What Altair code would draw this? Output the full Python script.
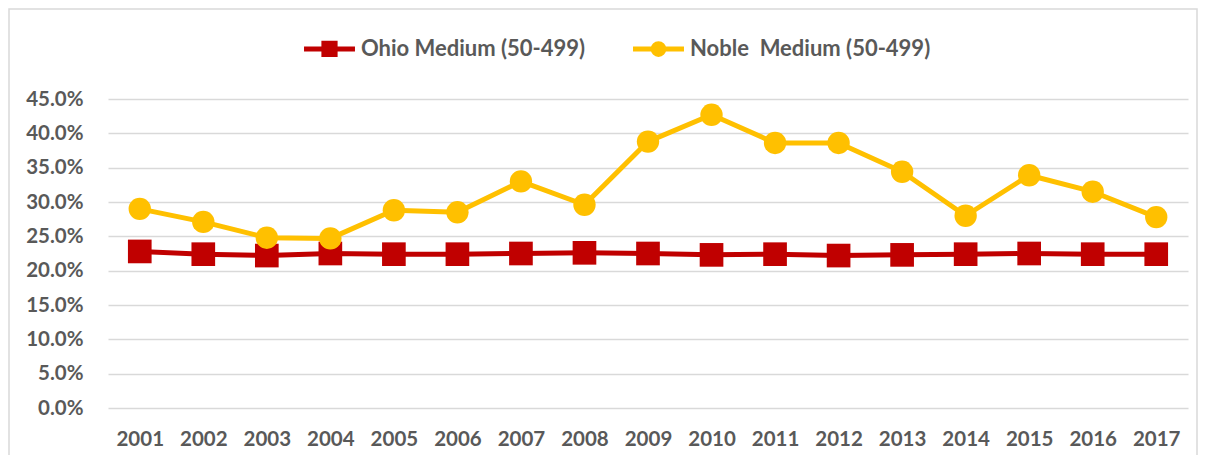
import altair as alt
import pandas as pd

# ---- data ----
years = ["2001", "2002", "2003", "2004", "2005", "2006", "2007", "2008", "2009",
         "2010", "2011", "2012", "2013", "2014", "2015", "2016", "2017"]
ohio = [22.8, 22.4, 22.2, 22.5, 22.4, 22.4, 22.5, 22.6, 22.5,
        22.3, 22.4, 22.2, 22.3, 22.4, 22.5, 22.4, 22.4]
noble = [29.0, 27.1, 24.8, 24.7, 28.8, 28.5, 33.0, 29.6, 38.8,
         42.7, 38.6, 38.6, 34.4, 28.0, 33.9, 31.5, 27.8]
series_names = ["Ohio Medium (50-499)", "Noble  Medium (50-499)"]
series_values = [ohio, noble]
colors = ["#C00000", "#FFC000"]
shapes = ["square", "circle"]
y_ticks = [0.0, 0.05, 0.10, 0.15, 0.20, 0.25, 0.30, 0.35, 0.40, 0.45]
chart_title = "1a: Percent of Employment in Medium Firms"

rows = []
for name, vals in zip(series_names, series_values):
    for yr, v in zip(years, vals):
        rows.append({"Year": yr, "Series": name, "Value": v / 100.0})
df = pd.DataFrame(rows)

FONT = "Lato"
LABEL_COLOR = "#595959"
GRID = "#D9D9D9"

sq_path = "M-0.91,0H0.91M-0.2,-0.2H0.2V0.2H-0.2Z"
ci_path = "M-0.91,0H0.91M0.19,0A0.19,0.19,0,1,1,-0.19,0A0.19,0.19,0,1,1,0.19,0Z"

shape_expr = "datum.value === '" + series_names[0] + "' ? '" + sq_path + "' : '" + ci_path + "'"

legend = alt.Legend(
    title=None,
    orient="none",
    legendX=191,
    legendY=-81,
    direction="horizontal",
    padding=0,
    symbolSize=3136,
    symbolType=alt.ExprRef(shape_expr),
    symbolFillColor=alt.ExprRef("scale('color', datum.value)"),
    symbolStrokeColor=alt.ExprRef("scale('color', datum.value)"),
    symbolStrokeWidth=5,
    symbolOpacity=1,
    labelExpr="replace(datum.label, '  ', '\u00a0 ')",
    labelFont=FONT,
    labelFontSize=22,
    labelFontWeight="bold",
    labelColor=LABEL_COLOR,
    labelLimit=500,
    labelOffset=1,
    columnPadding=37,
)

x_enc = alt.X(
    "Year:O",
    sort=years,
    scale=alt.Scale(padding=0.5),
    axis=alt.Axis(
        title=None, domain=False, ticks=False, grid=False, labelAngle=0,
        labelFont=FONT, labelFontSize=20.5, labelFontWeight="bold",
        labelColor=LABEL_COLOR, labelPadding=21,
    ),
)
y_enc = alt.Y(
    "Value:Q",
    scale=alt.Scale(domain=[0, 0.45], nice=False, zero=True),
    axis=alt.Axis(
        title=None, domain=False, ticks=False, grid=True, values=y_ticks,
        format=".1%", gridColor=GRID, gridWidth=1.5,
        labelFont=FONT, labelFontSize=20.5, labelFontWeight="bold",
        labelColor=LABEL_COLOR, labelPadding=25,
    ),
)
color_enc = alt.Color(
    "Series:N",
    scale=alt.Scale(domain=series_names, range=colors),
    legend=legend,
)

layers = []
point_sizes = [560, 500]
for i, name in enumerate(series_names):
    base = alt.Chart(df).transform_filter(alt.datum.Series == name)
    line = base.mark_line(strokeWidth=5, strokeJoin="round", strokeCap="round").encode(
        x=x_enc, y=y_enc, color=color_enc
    )
    pts = base.mark_point(filled=True, shape=shapes[i], size=point_sizes[i], opacity=1).encode(
        x=x_enc, y=y_enc, color=color_enc
    )
    layers += [line, pts]

border = alt.Chart(pd.DataFrame({"k": [0]})).mark_rect(
    fill="transparent", stroke=GRID, strokeWidth=1.5
).encode(
    x=alt.value(-99), x2=alt.value(1089), y=alt.value(-90), y2=alt.value(470)
)

chart = alt.layer(border, *layers).properties(
    width=1080,
    height=309,
    autosize=alt.AutoSizeParams(type="none"),
    padding={"left": 100, "top": 91, "right": 10, "bottom": 47},
    title=alt.TitleParams(
        text=chart_title, anchor="start", frame="group", orient="top",
        offset=97, baseline="alphabetic", dx=-104,
        font=FONT, fontSize=22, fontWeight="bold", color="#000000",
    ),
).configure_view(stroke=None)

chart.save("out.html", embed_options={"renderer": "svg", "actions": False})
